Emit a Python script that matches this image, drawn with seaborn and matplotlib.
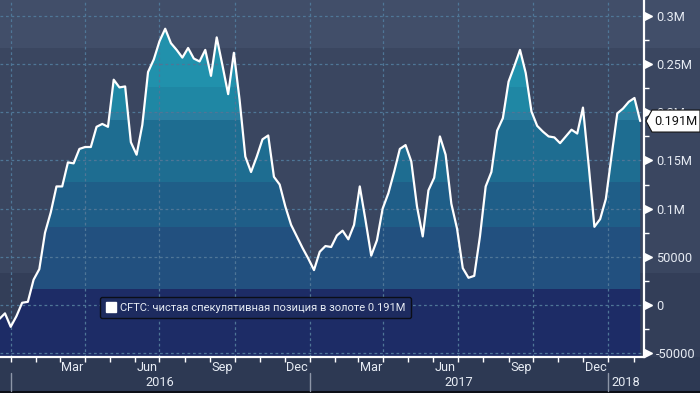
import numpy as np
import pandas as pd
import matplotlib
matplotlib.use("Agg")
import matplotlib.pyplot as plt
import matplotlib.transforms as mtransforms
import matplotlib.dates as mdates
from matplotlib.patches import Polygon, Rectangle
from matplotlib.lines import Line2D
from matplotlib.ticker import FixedLocator, FuncFormatter
import seaborn as sns

# ---------------- data ----------------
start_date = "2015-12-18"          # first weekly observation (Friday)
net_k = [  # CFTC net speculative gold position, thousands of contracts
    -15, -9, -23, -12, 2, 3, 26, 37, 75, 96,
    123, 123, 148, 147, 162, 164, 164, 185, 188, 185,
    234, 226, 227, 169, 156, 187, 242, 255, 274, 287,
    272, 265, 257, 267, 256, 253, 265, 238, 278, 249,
    219, 262, 213, 154, 138, 154, 172, 176, 133, 125,
    102, 83, 71, 59, 48, 36, 55, 61, 60, 72,
    77, 68, 83, 123, 88, 51, 67, 100, 116, 138,
    162, 166, 149, 102, 71, 119, 132, 175, 156, 105,
    79, 38, 28, 30, 71, 123, 138, 181, 194, 232,
    248, 265, 241, 201, 186, 180, 175, 174, 168, 175,
    182, 178, 205, 145, 81, 89, 110, 155, 199, 204,
    211, 215, 191,
]
series_label = "CFTC: чистая спекулятивная позиция в золоте"
y_ticks = [-50000, 0, 50000, 100000, 150000, 200000, 250000, 300000]
month_names = {3: "Mar", 6: "Jun", 9: "Sep", 12: "Dec"}
years = [2016, 2017, 2018]

dates = pd.date_range(start_date, periods=len(net_k), freq="7D")
net = np.array(net_k, dtype=float) * 1000.0
df = pd.DataFrame({"date": dates, "net": net})

# ---------------- style ----------------
sns.set_theme(style="dark")
plt.rcParams["font.family"] = ["Roboto", "DejaVu Sans"]
TXT = "#e6ebf3"
FS = 9.2

W, H = 700, 393
fig = plt.figure(figsize=(W / 100, H / 100), dpi=100)
fig.patch.set_facecolor("#2d3953")


def fig_rect(x0, y0, x1, y1, color, z=-10):
    fig.add_artist(Rectangle((x0 / W, 1 - y1 / H), (x1 - x0) / W, (y1 - y0) / H,
                             transform=fig.transFigure, facecolor=color,
                             edgecolor="none", zorder=z))


# background bands (Bloomberg style)
fig_rect(0, 0, W, 48, "#414e69")
fig_rect(0, 48, W, 273, "#3a4660")
fig_rect(0, 273, W, 357, "#333e58")
fig_rect(0, 357, W, 391, "#2d3953")
fig_rect(0, 391, W, H, "#0c0f16")

ax = fig.add_axes([0, (H - 357) / H, 644 / W, 357 / H])
ax.set_facecolor("none")

y_lo, y_hi = -54400, 316900
x_lo = pd.Timestamp("2015-12-18 22:00")
x_hi = pd.Timestamp("2018-02-13 16:00")

# invisible area polygon used as clip path for the banded fill
poly = ax.fill_between(df["date"], df["net"], y_lo, facecolor="none", edgecolor="none")
clip_path = poly.get_paths()[0]

bands = [
    (y_lo, 16000, "#1d2c66"),
    (16000, 81000, "#22507f"),
    (81000, 128000, "#1f5e88"),
    (128000, 192000, "#1e6d91"),
    (192000, 200500, "#2a7fa1"),
    (200500, 226000, "#1f87a4"),
    (226000, y_hi, "#2191ac"),
]
for lo, hi, c in bands:
    r = ax.axhspan(lo, hi, facecolor=c, edgecolor="none", lw=0, zorder=1)
    r.set_clip_path(clip_path, ax.transData)

sns.lineplot(data=df, x="date", y="net", ax=ax, color="white", lw=1.6,
             zorder=5, label=series_label)

ax.set_xlim(x_lo, x_hi)
ax.set_ylim(y_lo, y_hi)
ax.set_xlabel("")
ax.set_ylabel("")

# grid
grid_c = "#4f7697"
ax.set_yticks(y_ticks)
ax.yaxis.grid(True, color=grid_c, linestyle=(0, (2.2, 2.2)), lw=0.9)
ax.xaxis.grid(False)
ax.set_axisbelow(False)
quarters = pd.date_range("2016-01-01", "2018-01-01", freq="QS")
for q in quarters:
    ax.axvline(q, color=grid_c, linestyle=(0, (2.2, 2.2)), lw=0.9, zorder=2.5)

# spines
for s in ["left", "top"]:
    ax.spines[s].set_visible(False)
for s in ["right", "bottom"]:
    ax.spines[s].set_visible(True)
    ax.spines[s].set_color("white")
    ax.spines[s].set_linewidth(1.6)
    ax.spines[s].set_zorder(6)

# y axis (right)
ax.yaxis.tick_right()
ax.yaxis.set_major_formatter(FuncFormatter(
    lambda v, p: f"{v / 1e6:g}M" if abs(v) >= 100000 else f"{v:.0f}"))
ax.yaxis.set_minor_locator(FixedLocator([t + 25000 for t in y_ticks]))
ax.tick_params(axis="y", which="major", length=0, pad=8.5, labelsize=FS,
               labelcolor=TXT, right=True, left=False)
ax.tick_params(axis="y", which="minor", length=3.5, width=1, color="white",
               direction="out", right=True, left=False)
ytr = mtransforms.blended_transform_factory(ax.transAxes, ax.transData)
ax.plot([648 / 644] * len(y_ticks), y_ticks, transform=ytr, ls="none",
        marker=">", markersize=5.5, color="white", clip_on=False, zorder=7)

# x axis: month ticks + centred labels + years
month_starts = pd.date_range("2016-01-01", "2018-02-01", freq="MS")
ax.set_xticks(month_starts)
ax.set_xticklabels([])
ax.tick_params(axis="x", which="major", length=3.5, width=1, color="white",
               direction="out", bottom=True)
xtr = mtransforms.blended_transform_factory(ax.transData, ax.transAxes)
for m in month_starts:
    if m.month in month_names:
        mid = m + (m + pd.offsets.MonthBegin(1) - m) / 2
        ax.text(mid, (357 - 367.5) / 357, month_names[m.month], transform=xtr,
                ha="center", va="center", color=TXT, fontsize=FS, clip_on=False)
for yr in years:
    a = max(pd.Timestamp(f"{yr}-01-01"), x_lo)
    b = min(pd.Timestamp(f"{yr + 1}-01-01"), x_hi)
    ax.text(a + (b - a) / 2, (357 - 383) / 357, str(yr), transform=xtr,
            ha="center", va="center", color=TXT, fontsize=FS, clip_on=False)
    sep = pd.Timestamp(f"{yr}-01-01")
    ax.add_line(Line2D([mdates.date2num(sep)] * 2,
                       [(357 - 373) / 357, (357 - 391) / 357], transform=xtr,
                       color="#8d96a8", lw=1, clip_on=False))

# last-value label
last = net[-1]
dy = 11 * (y_hi - y_lo) / 357
pts = [(646 / 644, last), (652 / 644, last + dy), (700 / 644, last + dy),
       (700 / 644, last - dy), (652 / 644, last - dy)]
ax.add_patch(Polygon(pts, closed=True, transform=ytr, facecolor="white",
                     edgecolor="#111111", lw=0.8, clip_on=False, zorder=8))
ax.text(654 / 644, last, f"{last / 1e6:.3f}M", transform=ytr, ha="left",
        va="center", color="#111111", fontsize=FS, clip_on=False, zorder=9)

# legend
handle = Line2D([], [], ls="none", marker="s", markersize=7.5, color="white")
leg = ax.legend([handle], [f"{series_label} {last / 1e6:.3f}M"],
                loc="upper left", bbox_to_anchor=(100 / 644, (357 - 297) / 357),
                borderaxespad=0, frameon=True, fancybox=True, fontsize=8,
                labelcolor=TXT, handletextpad=0.3, borderpad=0.5,
                handlelength=1.0)
leg.get_frame().set_facecolor("#1d2b5f")
leg.get_frame().set_edgecolor("#0b0e18")
leg.get_frame().set_linewidth(1.0)
leg.get_frame().set_alpha(1)
leg.set_zorder(10)

fig.savefig("out.png", dpi=100, facecolor=fig.get_facecolor())
